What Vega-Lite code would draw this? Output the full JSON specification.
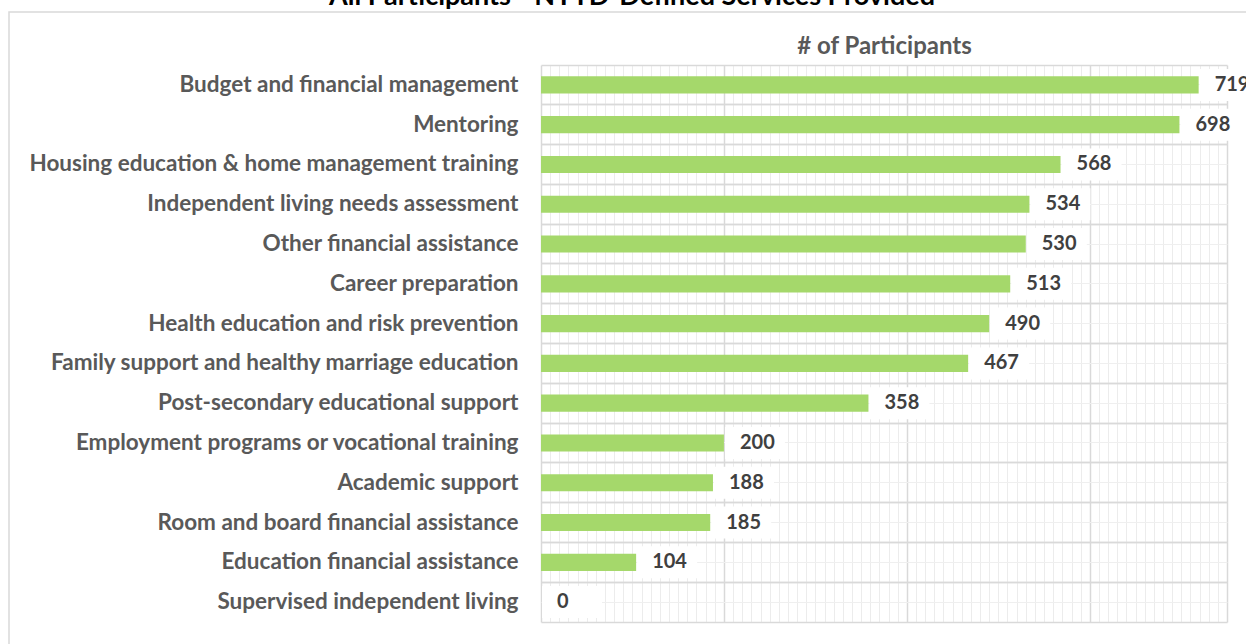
{
  "$schema": "https://vega.github.io/schema/vega-lite/v6.json",
  "width": 1240,
  "height": 636,
  "autosize": {"type": "none"},
  "padding": {"left": 9, "top": 12, "right": -3, "bottom": -4},
  "background": "white",
  "config": {
    "view": {"stroke": "#d9d9d9", "strokeWidth": 1.5},
    "font": "Lato"
  },
  "title": {
    "text": "All Participants - NYTD-Defined Services Provided",
    "font": "Lato",
    "fontSize": 27,
    "fontWeight": "bold",
    "color": "#000000",
    "anchor": "middle",
    "offset": 1,
    "dx": 3
  },
  "data": {
    "values": [
      {"service": "Budget and financial management", "participants": 719},
      {"service": "Mentoring", "participants": 698},
      {"service": "Housing education & home management training", "participants": 568},
      {"service": "Independent living needs assessment", "participants": 534},
      {"service": "Other financial assistance", "participants": 530},
      {"service": "Career preparation", "participants": 513},
      {"service": "Health education and risk prevention", "participants": 490},
      {"service": "Family support and healthy marriage education", "participants": 467},
      {"service": "Post-secondary educational support", "participants": 358},
      {"service": "Employment programs or vocational training", "participants": 200},
      {"service": "Academic support", "participants": 188},
      {"service": "Room and board financial assistance", "participants": 185},
      {"service": "Education financial assistance", "participants": 104},
      {"service": "Supervised independent living", "participants": 0}
    ]
  },
  "resolve": {"axis": {"x": "independent", "y": "independent"}},
  "layer": [
    {
      "mark": {"type": "bar", "color": "#a5d86b", "height": {"band": 0.43}},
      "encoding": {
        "y": {
          "field": "service", "type": "nominal", "sort": null,
          "scale": {"range": [53, 610], "paddingInner": 0, "paddingOuter": 0},
          "axis": {
            "orient": "left", "offset": -532, "title": null, "bandPosition": 0.5,
            "labelPadding": 23, "labelFont": "Lato", "labelFontSize": 22.5, "labelFontWeight": "bold",
            "labelColor": "#595959", "labelLimit": 700, "ticks": false, "domain": false,
            "grid": true, "gridColor": "#efefef", "gridWidth": 1
          }
        },
        "x": {
          "field": "participants", "type": "quantitative",
          "scale": {"domain": [0, 750], "range": [532, 1218], "nice": false, "zero": true},
          "axis": {
            "orient": "top", "offset": -53, "title": "# of Participants",
            "titleFont": "Lato", "titleFontSize": 24, "titleFontWeight": "bold", "titleColor": "#595959",
            "titlePadding": 7, "labels": false, "ticks": false, "domain": false,
            "grid": true, "gridColor": "#ececec", "gridWidth": 1,
            "values": [10,20,30,40,50,60,70,80,90,100,110,120,130,140,150,160,170,180,190,210,220,230,240,250,260,270,280,290,300,310,320,330,340,350,360,370,380,390,410,420,430,440,450,460,470,480,490,500,510,520,530,540,550,560,570,580,590,610,620,630,640,650,660,670,680,690,700,710,720,730,740]
          }
        }
      }
    },
    {
      "mark": {"type": "point", "shape": "M-2,-1.067H2V1.067H-2Z", "size": 900, "filled": true, "color": "white", "opacity": 1, "strokeWidth": 0, "xOffset": 31},
      "encoding": {
        "y": {
          "field": "service", "type": "nominal", "sort": null,
          "scale": {"range": [53, 610], "paddingInner": 0, "paddingOuter": 0},
          "axis": {
            "orient": "left", "bandPosition": 1, "title": null, "labels": false, "ticks": false, "domain": false,
            "grid": true, "gridColor": "#d9d9d9", "gridWidth": 1.5
          }
        },
        "x": {
          "field": "participants", "type": "quantitative",
          "scale": {"domain": [0, 750], "range": [532, 1218], "nice": false, "zero": true},
          "axis": null
        }
      }
    },
    {
      "mark": {"type": "text", "align": "left", "baseline": "middle", "dx": 16, "font": "Lato", "fontSize": 20, "fontWeight": "bold", "color": "#404040"},
      "encoding": {
        "y": {
          "field": "service", "type": "nominal", "sort": null,
          "scale": {"range": [53, 610], "paddingInner": 0, "paddingOuter": 0},
          "axis": {
            "orient": "left", "bandPosition": 0, "title": null, "labels": false, "ticks": false, "domain": false,
            "grid": true, "gridColor": "#d9d9d9", "gridWidth": 1.5
          }
        },
        "x": {
          "field": "participants", "type": "quantitative",
          "scale": {"domain": [0, 750], "range": [532, 1218], "nice": false, "zero": true},
          "axis": {
            "orient": "top", "title": null, "labels": false, "ticks": false, "domain": false,
            "grid": true, "gridColor": "#d9d9d9", "gridWidth": 1.5,
            "values": [0, 200, 400, 600, 750]
          }
        },
        "text": {"field": "participants", "type": "quantitative"}
      }
    }
  ]
}
